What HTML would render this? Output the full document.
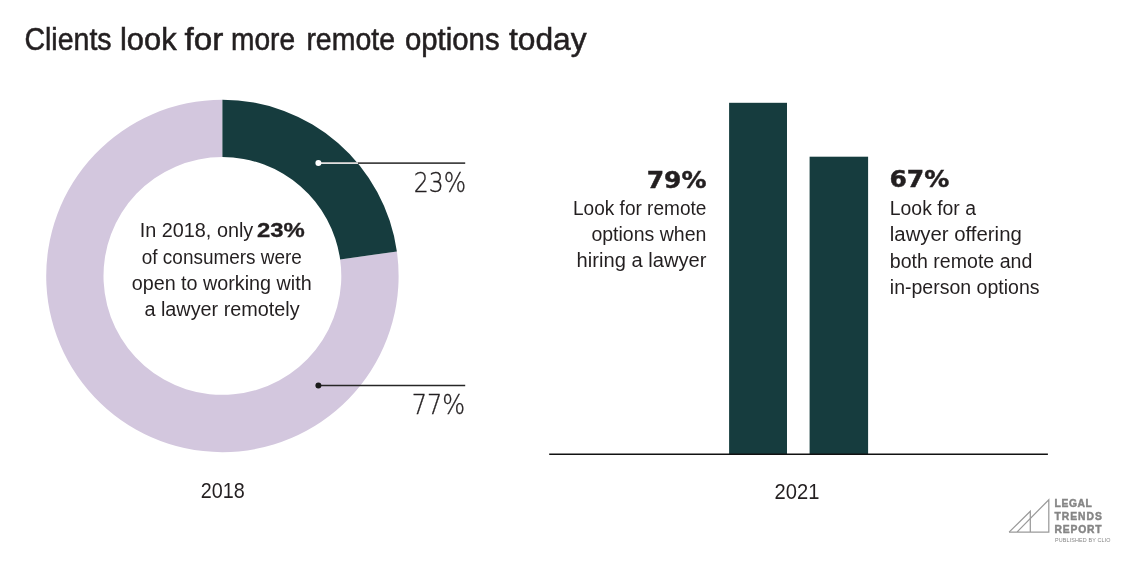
<!DOCTYPE html>
<html lang="en"><head><meta charset="utf-8"><title>Clients look for more remote options today</title>
<style>
html,body{margin:0;padding:0;background:#fff;}
body{width:1128px;height:568px;overflow:hidden;}
svg{display:block;}
text{font-family:"Liberation Sans",sans-serif;}
</style></head><body>
<svg width="1128" height="568" viewBox="0 0 1128 568">
<rect width="1128" height="568" fill="#fff"/>
<g id="title">
<text x="24.4" y="50.4" font-size="31" font-weight="400" fill="#231f20" textLength="87.2" lengthAdjust="spacingAndGlyphs" stroke="#231f20" stroke-width="0.55">Clients</text>
<text x="120.0" y="50.4" font-size="31" font-weight="400" fill="#231f20" textLength="56.6" lengthAdjust="spacingAndGlyphs" stroke="#231f20" stroke-width="0.55">look</text>
<text x="184.5" y="50.4" font-size="31" font-weight="400" fill="#231f20" textLength="38.8" lengthAdjust="spacingAndGlyphs" stroke="#231f20" stroke-width="0.55">for</text>
<text x="231.0" y="50.4" font-size="31" font-weight="400" fill="#231f20" textLength="64.1" lengthAdjust="spacingAndGlyphs" stroke="#231f20" stroke-width="0.55">more</text>
<text x="306.4" y="50.4" font-size="31" font-weight="400" fill="#231f20" textLength="88.6" lengthAdjust="spacingAndGlyphs" stroke="#231f20" stroke-width="0.55">remote</text>
<text x="404.9" y="50.4" font-size="31" font-weight="400" fill="#231f20" textLength="94.7" lengthAdjust="spacingAndGlyphs" stroke="#231f20" stroke-width="0.55">options</text>
<text x="509.0" y="50.4" font-size="31" font-weight="400" fill="#231f20" textLength="77.6" lengthAdjust="spacingAndGlyphs" stroke="#231f20" stroke-width="0.55">today</text>
</g>
<path d="M396.89,251.43 A176.2,176.2 0 1 1 222.4,99.75 L222.4,157.04999999999998 A118.9,118.9 0 1 0 340.14,259.40 Z" fill="#d3c7de"/>
<path d="M222.4,99.75 A176.2,176.2 0 0 1 396.89,251.43 L340.14,259.40 A118.9,118.9 0 0 0 222.4,157.04999999999998 Z" fill="#163c3e"/>
<g id="center">
<text x="139.7" y="237.2" font-size="19.5" font-weight="400" fill="#231f20" textLength="113.6" lengthAdjust="spacingAndGlyphs" >In 2018, only</text>
<text x="257.0" y="237.2" font-size="19.5" font-weight="700" fill="#231f20" textLength="47.8" lengthAdjust="spacingAndGlyphs" stroke="#231f20" stroke-width="0.3">23%</text>
<text x="141.8" y="263.9" font-size="19.5" font-weight="400" fill="#231f20" textLength="160.1" lengthAdjust="spacingAndGlyphs" >of consumers were</text>
<text x="131.7" y="290.3" font-size="19.5" font-weight="400" fill="#231f20" textLength="180.0" lengthAdjust="spacingAndGlyphs" >open to working with</text>
<text x="144.4" y="316.2" font-size="19.5" font-weight="400" fill="#231f20" textLength="155.3" lengthAdjust="spacingAndGlyphs" >a lawyer remotely</text>
</g>
<line x1="318.4" y1="163.1" x2="465.2" y2="163.1" stroke="#444" stroke-width="1.6"/>
<line x1="318.4" y1="163.1" x2="358" y2="163.1" stroke="#e0e0e0" stroke-width="1.6"/>
<circle cx="318.4" cy="163.1" r="3" fill="#fff"/>
<line x1="318.4" y1="385.5" x2="465.2" y2="385.5" stroke="#262626" stroke-width="1.5"/>
<circle cx="318.4" cy="385.5" r="3" fill="#1a1a1a"/>
<text x="413.8" y="191.6" font-size="26.5" font-weight="400" fill="#231f20" textLength="52.2" lengthAdjust="spacingAndGlyphs" stroke="#231f20" stroke-width="0.35" style="font-family:'DejaVu Sans Light','DejaVu Sans',sans-serif">23%</text>
<text x="411.7" y="414.2" font-size="26.5" font-weight="400" fill="#231f20" textLength="53.4" lengthAdjust="spacingAndGlyphs" stroke="#231f20" stroke-width="0.35" style="font-family:'DejaVu Sans Light','DejaVu Sans',sans-serif">77%</text>
<text x="200.8" y="497.6" font-size="21.5" font-weight="400" fill="#231f20" textLength="44.0" lengthAdjust="spacingAndGlyphs" >2018</text>
<text x="774.6" y="499.0" font-size="21.5" font-weight="400" fill="#231f20" textLength="44.8" lengthAdjust="spacingAndGlyphs" >2021</text>
<rect x="729.1" y="102.8" width="57.9" height="351.2" fill="#163c3e"/>
<rect x="809.6" y="156.7" width="58.5" height="297.3" fill="#163c3e"/>
<line x1="549.2" y1="454.3" x2="1047.9" y2="454.3" stroke="#111" stroke-width="1.5"/>
<text x="646.7" y="187.5" font-size="23.6" font-weight="700" fill="#231f20" textLength="59.8" lengthAdjust="spacingAndGlyphs" stroke="#231f20" stroke-width="0.45" style="font-family:'DejaVu Sans',sans-serif">79%</text>
<text x="573.0" y="214.6" font-size="19.5" font-weight="400" fill="#231f20" textLength="133.4" lengthAdjust="spacingAndGlyphs" >Look for remote</text>
<text x="591.4" y="241.0" font-size="19.5" font-weight="400" fill="#231f20" textLength="115.0" lengthAdjust="spacingAndGlyphs" >options when</text>
<text x="576.6" y="267.2" font-size="19.5" font-weight="400" fill="#231f20" textLength="129.8" lengthAdjust="spacingAndGlyphs" >hiring a lawyer</text>
<text x="889.4" y="187.3" font-size="23.6" font-weight="700" fill="#231f20" textLength="59.9" lengthAdjust="spacingAndGlyphs" stroke="#231f20" stroke-width="0.45" style="font-family:'DejaVu Sans',sans-serif">67%</text>
<text x="889.8" y="214.6" font-size="19.5" font-weight="400" fill="#231f20" textLength="86.2" lengthAdjust="spacingAndGlyphs" >Look for a</text>
<text x="889.8" y="241.0" font-size="19.5" font-weight="400" fill="#231f20" textLength="132.0" lengthAdjust="spacingAndGlyphs" >lawyer offering</text>
<text x="889.8" y="267.6" font-size="19.5" font-weight="400" fill="#231f20" textLength="142.5" lengthAdjust="spacingAndGlyphs" >both remote and</text>
<text x="889.8" y="294.0" font-size="19.5" font-weight="400" fill="#231f20" textLength="149.7" lengthAdjust="spacingAndGlyphs" >in-person options</text>
<g fill="none" stroke="#9a9a9a" stroke-width="1.25">
<path d="M1009.1,532.1 L1048.8,532.1 L1048.8,499.7 L1016.9,532.1"/>
<path d="M1009.1,532.1 L1030.3,511.3 L1030.3,532.1"/>
</g>
<text x="1054.6" y="507.3" font-size="10.3" font-weight="700" fill="#858585" textLength="37.2" lengthAdjust="spacing" stroke="#858585" stroke-width="0.45">LEGAL</text>
<text x="1054.6" y="520.0" font-size="10.3" font-weight="700" fill="#858585" textLength="47.2" lengthAdjust="spacing" stroke="#858585" stroke-width="0.45">TRENDS</text>
<text x="1054.6" y="532.5" font-size="10.3" font-weight="700" fill="#858585" textLength="47.0" lengthAdjust="spacing" stroke="#858585" stroke-width="0.45">REPORT</text>
<text x="1054.9" y="541.7" font-size="5.4" font-weight="400" fill="#858585" textLength="55.5" lengthAdjust="spacing" >PUBLISHED BY CLIO</text>
</svg></body></html>
